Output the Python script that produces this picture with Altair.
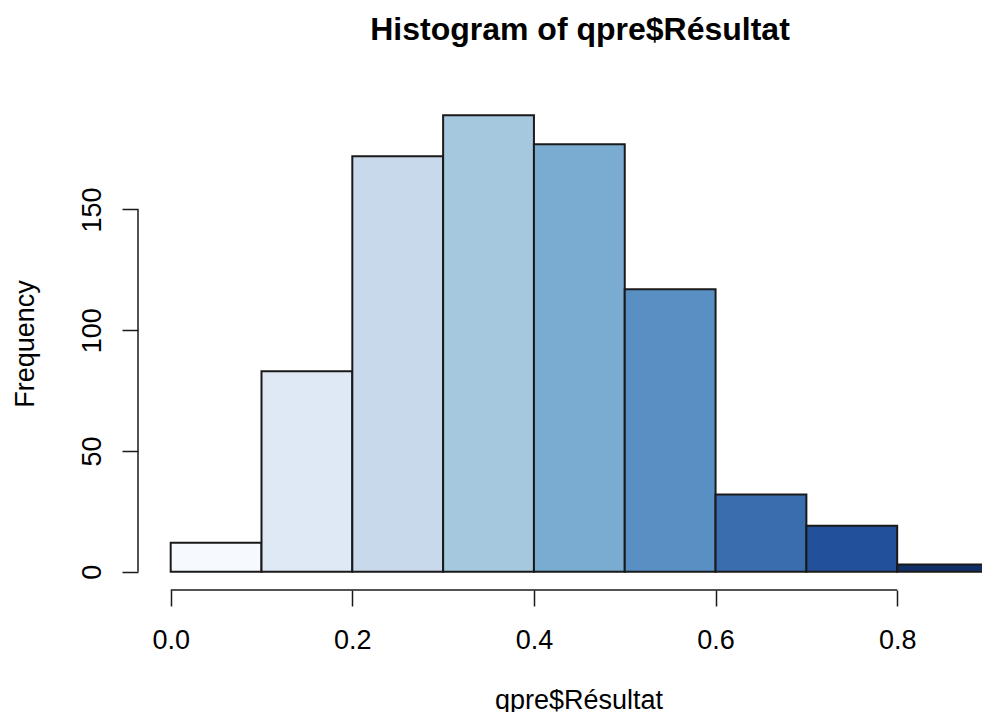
import altair as alt
import pandas as pd

# ---- data ----
bin_start = [0.0, 0.1, 0.2, 0.3, 0.4, 0.5, 0.6, 0.7, 0.8]
bin_end = [0.1, 0.2, 0.3, 0.4, 0.5, 0.6, 0.7, 0.8, 0.9]
counts = [12, 83, 172, 189, 177, 117, 32, 19, 3]
bar_colors = ["#F6FAFE", "#DFE9F5", "#C8D9EB", "#A6C8DF", "#7AACD2",
              "#5990C4", "#3A6DAE", "#22509A", "#112F67"]
x_ticks = [0.0, 0.2, 0.4, 0.6, 0.8]
y_ticks = [0, 50, 100, 150]
x_domain = [-0.036, 0.9]
y_domain = [-7.56, 196.56]

FONT = "Liberation Sans"
INK = "#1a1a1a"

df = pd.DataFrame({"start": bin_start, "end": bin_end, "count": counts, "color": bar_colors})

xscale = alt.Scale(domain=x_domain, nice=False, zero=False)
yscale = alt.Scale(domain=y_domain, nice=False, zero=False)

x_axis = alt.Axis(
    values=x_ticks, format=".1f", domain=False, grid=False,
    tickSize=16, tickWidth=1.5, tickColor=INK,
    labelFont=FONT, labelFontSize=27, labelColor="black", labelPadding=21,
    title="qpre$Résultat", titleFont=FONT, titleFontSize=27, titleFontWeight="normal",
    titleColor="black", titleX=440.5, titleY=118, titleAlign="center",
    titleBaseline="alphabetic",
)
y_axis = alt.Axis(
    values=y_ticks, domain=False, grid=False,
    tickSize=16, tickWidth=1.5, tickColor=INK,
    labelFont=FONT, labelFontSize=27, labelColor="black", labelPadding=22,
    labelAngle=270, labelAlign="center", labelBaseline="alphabetic",
    title="Frequency", titleFont=FONT, titleFontSize=27, titleFontWeight="normal",
    titleColor="black", titleAngle=270, titleX=-105, titleY=246.5,
    titleAlign="center", titleBaseline="alphabetic",
)

bars = alt.Chart(df).mark_rect(stroke=INK, strokeWidth=2).encode(
    x=alt.X("start:Q", scale=xscale, axis=x_axis),
    x2="end:Q",
    y=alt.Y("count:Q", scale=yscale, axis=y_axis),
    y2=alt.datum(0),
    color=alt.Color("color:N", scale=None),
)

xline_df = pd.DataFrame({"x": [min(x_ticks)], "x2": [max(x_ticks)], "y": [y_domain[0]]})
yline_df = pd.DataFrame({"y": [min(y_ticks)], "y2": [max(y_ticks)], "x": [x_domain[0]]})

xline = alt.Chart(xline_df).mark_rule(color=INK, strokeWidth=1.5).encode(
    x=alt.X("x:Q", scale=xscale, axis=x_axis),
    x2="x2:Q",
    y=alt.Y("y:Q", scale=yscale, axis=y_axis),
)
yline = alt.Chart(yline_df).mark_rule(color=INK, strokeWidth=1.5).encode(
    y=alt.Y("y:Q", scale=yscale, axis=y_axis),
    y2="y2:Q",
    x=alt.X("x:Q", scale=xscale, axis=x_axis),
)

chart = alt.layer(bars, xline, yline).properties(
    width=850,
    height=493,
    autosize=alt.AutoSizeParams(type="none"),
    padding={"left": 130, "top": 89, "right": -6, "bottom": 122},
    title=alt.TitleParams(
        "Histogram of qpre$Résultat", font=FONT, fontSize=32, fontWeight="bold",
        color="black", anchor="middle", frame="group", dx=17, offset=25,
        baseline="alphabetic",
    ),
    background="white",
).configure_view(stroke=None)

chart.save("out.html", embed_options={"renderer": "svg", "actions": False})
